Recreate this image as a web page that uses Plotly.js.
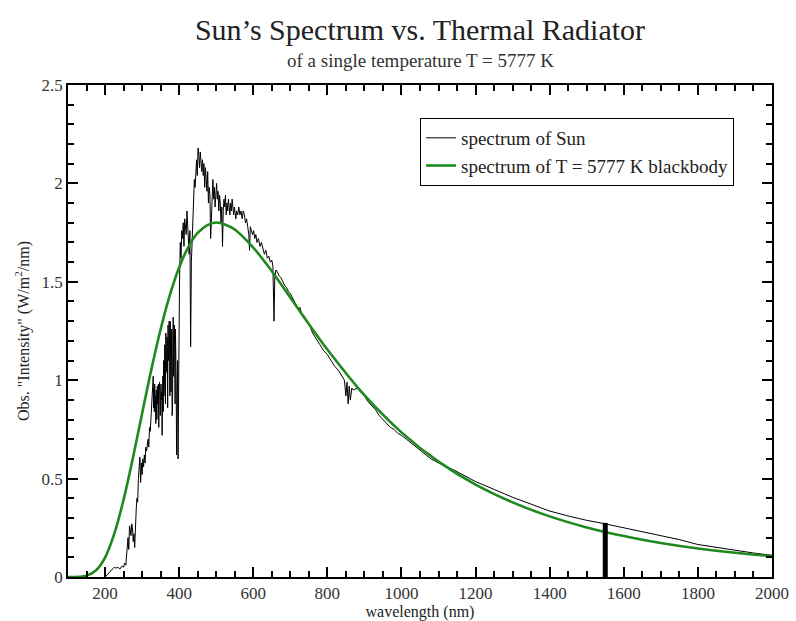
<!DOCTYPE html>
<html>
<head>
<meta charset="utf-8">
<script src="https://cdn.plot.ly/plotly-3.0.1.min.js"></script>
<style>html,body{margin:0;padding:0;background:#fff;}#chart{width:796px;height:621px;}</style>
</head>
<body>
<div id="chart"></div>
<script>
const sunWavelength = [200,205,210,215,220,225,230,235,240,245,250,253,256,259,262,264,266,268,270,272,274,276,278,280,282,284,286,288,290,292,294,296,298,300,302,304,306,308,310,312,314,316,318,320,322,324,326,328,330,331,332,333,334,335,336,337,338,339,340,341,342,343,344,345,346,347,348,349,350,351,352,353,354,355,356,357,358,359,360,361,362,363,364,365,366,367,368,369,370,371,372,373,374,375,376,377,378,379,380,381,382,383,384,385,386,387,388,389,390,391,392,393,394,395,396,397,398,399,401,403,405,407,409,411,413,415,417,419,421,423,425,427,429,431,433,435,437,439,441,443,445,447,449,451,453,455,457,459,461,463,465,467,469,471,473,475,477,479,481,483,485,487,489,491,493,495,497,499,501,503,505,507,509,511,513,515,517,519,521,523,525,527,529,531,533,535,537,539,541,543,545,547,549,551,553,555,558,561,564,567,570,573,576,579,582,585,588,590,592,595,598,601,604,607,610,614,618,622,626,630,634,638,642,646,650,653,656,658,661,665,670,675,680,685,690,695,700,706,712,718,722,726,730,736,742,748,754,760,766,772,780,790,800,810,820,830,840,846,850,853,856,859,862,866,870,880,890,900,910,920,930,940,950,960,970,980,990,1000,1020,1040,1060,1080,1100,1120,1140,1160,1180,1200,1250,1300,1350,1400,1450,1500,1550,1600,1650,1700,1750,1800,1850,1900,1950,2000];
const sunIntensity = [0.00,0.01,0.02,0.03,0.04,0.05,0.045,0.05,0.04,0.055,0.05,0.07,0.06,0.12,0.20,0.14,0.26,0.24,0.21,0.27,0.25,0.18,0.22,0.15,0.30,0.34,0.40,0.38,0.50,0.56,0.61,0.48,0.58,0.52,0.60,0.56,0.62,0.58,0.66,0.64,0.68,0.70,0.66,0.76,0.74,0.82,0.88,0.96,1.02,0.86,0.96,0.84,0.98,0.88,0.92,0.78,0.95,0.84,0.80,0.97,0.88,0.93,0.98,0.76,0.92,0.99,0.96,0.82,0.86,0.98,0.90,0.94,0.72,0.96,1.02,0.84,1.10,0.92,0.98,1.18,1.16,0.88,1.24,1.04,1.06,1.22,1.20,0.86,1.28,1.10,1.14,1.30,1.22,0.92,1.30,1.08,0.94,1.26,1.26,0.82,0.84,1.20,1.32,1.02,1.10,1.28,1.18,0.88,1.26,1.14,1.00,0.62,0.96,0.90,1.10,0.60,0.98,1.20,1.50,1.70,1.62,1.76,1.72,1.80,1.68,1.82,1.78,1.74,1.86,1.78,1.70,1.64,1.76,1.17,1.60,1.72,1.86,1.96,2.02,1.98,2.08,2.12,2.04,2.18,2.14,2.08,2.16,2.10,2.06,2.12,2.04,2.10,1.98,2.08,2.02,1.96,2.06,1.90,1.98,1.94,1.72,1.84,1.96,2.02,1.92,1.98,1.88,1.94,2.00,1.92,1.96,1.86,1.94,1.90,1.80,1.88,1.68,1.86,1.92,1.88,1.94,1.84,1.90,1.86,1.92,1.88,1.84,1.90,1.86,1.92,1.88,1.84,1.88,1.86,1.82,1.86,1.84,1.88,1.84,1.86,1.82,1.86,1.84,1.80,1.82,1.78,1.74,1.66,1.78,1.76,1.74,1.76,1.72,1.74,1.70,1.72,1.68,1.70,1.66,1.64,1.66,1.62,1.63,1.60,1.61,1.58,1.30,1.52,1.56,1.55,1.53,1.52,1.50,1.48,1.47,1.45,1.44,1.42,1.40,1.38,1.36,1.37,1.34,1.33,1.31,1.29,1.27,1.24,1.22,1.20,1.18,1.15,1.13,1.10,1.07,1.05,1.02,1.00,0.92,0.99,0.88,0.97,0.90,0.96,0.95,0.96,0.94,0.92,0.89,0.87,0.85,0.82,0.80,0.78,0.76,0.75,0.73,0.72,0.69,0.66,0.63,0.60,0.58,0.56,0.545,0.525,0.505,0.485,0.445,0.405,0.37,0.335,0.31,0.288,0.27,0.25,0.228,0.208,0.19,0.165,0.15,0.135,0.122,0.11];

// Thermal radiator curve (T = 5777 K)
const bbWavelength = [100,130,150,175,200,225,250,275,300,325,350,375,400,425,450,475,500,525,550,600,650,700,750,800,900,1000,1100,1200,1300,1400,1500,1600,1700,1800,1900,2000];
const bbIntensity = [0.0,0.001,0.007,0.033,0.099,0.22,0.393,0.603,0.831,1.055,1.259,1.434,1.573,1.678,1.748,1.787,1.801,1.79,1.766,1.674,1.554,1.42,1.285,1.156,0.924,0.735,0.586,0.469,0.379,0.308,0.252,0.208,0.173,0.145,0.123,0.106];

// Vertical marker at 1550 nm
const markerWavelength = [1550,1550];
const markerIntensity = [0,0.275];

// Axis ranges
const xRange = [100,2000];
const yRange = [0,2.5];

const serif = '"Liberation Serif", "Times New Roman", serif';

const traces = [
  {x: sunWavelength, y: sunIntensity, type:'scatter', mode:'lines', name:'spectrum of Sun',
   line:{color:'#000', width:1}},
  {x: bbWavelength, y: bbIntensity, type:'scatter', mode:'lines', name:'spectrum of T = 5777 K blackbody',
   line:{color:'#1e8a1e', width:2.6, shape:'spline'}},
  {x: markerWavelength, y: markerIntensity, type:'scatter', mode:'lines', showlegend:false,
   line:{color:'#000', width:5}}
];

const tickFont = {family:serif, size:17, color:'#333'};

const layout = {
  width:796, height:621,
  margin:{l:68, r:24, t:85, b:44},
  paper_bgcolor:'#fff', plot_bgcolor:'#fff',
  font:{family:serif, color:'#222', size:17},
  title:{text:"Sun’s Spectrum vs. Thermal Radiator", x:0.5, xref:'paper', xanchor:'center',
         y:0.952, yref:'container', yanchor:'middle',
         font:{family:serif, size:30, color:'#222'}},
  annotations:[{text:'of a single temperature T = 5777 K', xref:'paper', yref:'paper', x:0.5, y:1.05,
                xanchor:'center', yanchor:'middle', showarrow:false,
                font:{family:serif, size:19, color:'#333'}}],
  showlegend:true,
  legend:{x:0.5, y:0.933, xanchor:'left', yanchor:'top', bgcolor:'#fff', bordercolor:'#000', borderwidth:1,
          font:{family:serif, size:19, color:'#222'}, itemwidth:30, tracegroupgap:0},
  xaxis:{range:xRange, tickmode:'linear', tick0:0, dtick:200, ticks:'inside', ticklen:10, tickwidth:2,
         tickcolor:'#000', showline:true, linecolor:'#000', linewidth:1.5, mirror:'ticks',
         showgrid:false, zeroline:false, tickfont:tickFont, layer:'above traces',
         minor:{tickmode:'linear', tick0:0, dtick:50, ticks:'inside', ticklen:6, tickwidth:2, tickcolor:'#000', showgrid:false},
         title:{text:'wavelength (nm)', standoff:0, font:{family:serif, size:16, color:'#222'}}},
  yaxis:{range:yRange, tickmode:'linear', tick0:0, dtick:0.5, ticks:'inside', ticklen:10, tickwidth:2,
         tickcolor:'#000', showline:true, linecolor:'#000', linewidth:1.5, mirror:'ticks',
         showgrid:false, zeroline:false, tickfont:tickFont, layer:'above traces',
         minor:{tickmode:'linear', tick0:0, dtick:0.1, ticks:'inside', ticklen:6, tickwidth:2, tickcolor:'#000', showgrid:false},
         title:{text:'Obs. "Intensity" (W/m<sup>2</sup>/nm)', standoff:8, font:{family:serif, size:16, color:'#222'}}}
};

Plotly.newPlot('chart', traces, layout, {displayModeBar:false});
</script>
</body>
</html>
